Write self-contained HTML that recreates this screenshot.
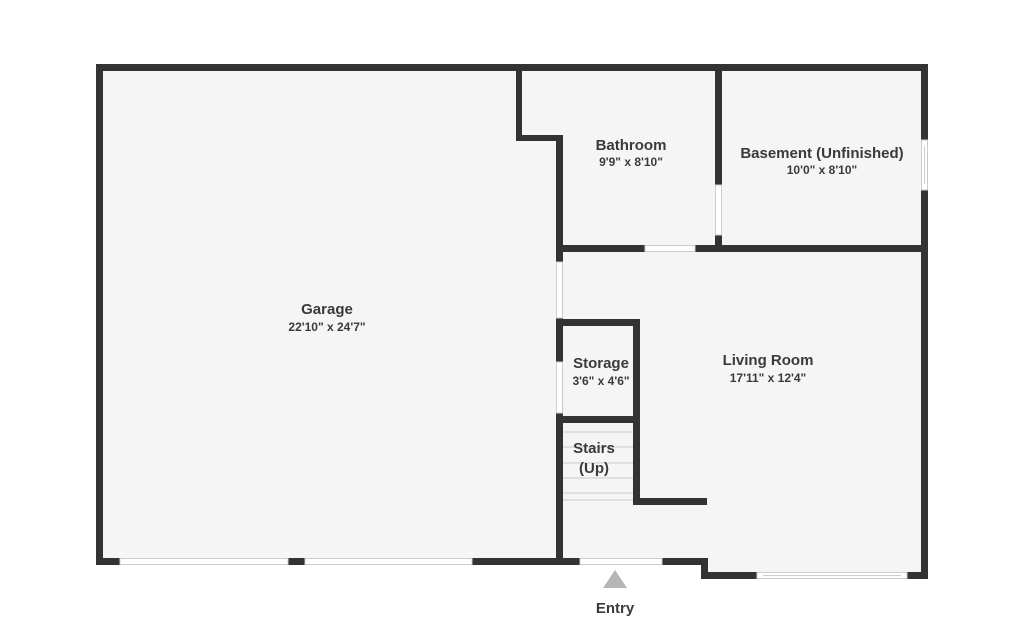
<!DOCTYPE html>
<html><head><meta charset="utf-8"><style>
html,body{margin:0;padding:0;background:#fff;}
svg{display:block;}
text{font-family:"Liberation Sans",sans-serif;fill:#3a3a3a;text-anchor:middle;}
.t{font-size:15px;font-weight:bold;}
.s{font-size:12px;font-weight:bold;}
</style></head><body>
<svg width="1023" height="620" viewBox="0 0 1023 620" xmlns="http://www.w3.org/2000/svg">
<!-- floor fill -->
<path d="M96 64 H928 V579 H701 V565 H96 Z" fill="#f5f5f5"/>
<g fill="#333">
<!-- outer walls -->
<rect x="96" y="64" width="832" height="7"/>
<rect x="96" y="64" width="7" height="501"/>
<rect x="921" y="64" width="7" height="76"/>
<rect x="921" y="190" width="7" height="389"/>
<!-- garage bottom -->
<rect x="96" y="558" width="24" height="7"/>
<rect x="288" y="558" width="17" height="7"/>
<rect x="472" y="558" width="108" height="7"/>
<!-- living bottom -->
<rect x="662" y="558" width="46" height="7"/>
<rect x="701" y="558" width="7" height="21"/>
<rect x="701" y="572" width="56" height="7"/>
<rect x="907" y="572" width="21" height="7"/>
<!-- interior -->
<rect x="516" y="64" width="6" height="77"/>
<rect x="516" y="135" width="47" height="6"/>
<rect x="556" y="135" width="7" height="127"/>
<rect x="556" y="318" width="7" height="44"/>
<rect x="556" y="413" width="7" height="152"/>
<rect x="556" y="245" width="89" height="7"/>
<rect x="695" y="245" width="233" height="7"/>
<rect x="715" y="64" width="7" height="121"/>
<rect x="715" y="235" width="7" height="17"/>
<!-- storage -->
<rect x="556" y="319" width="84" height="7"/>
<rect x="633" y="319" width="7" height="186"/>
<rect x="556" y="416" width="84" height="7"/>
<rect x="633" y="498" width="74" height="7"/>
</g>
<!-- door/window gaps -->
<g fill="#fff" stroke="#ccc" stroke-width="1">
<rect x="120" y="558.5" width="168" height="6"/>
<rect x="305" y="558.5" width="167" height="6"/>
<rect x="580" y="558.5" width="82" height="6"/>
<rect x="645" y="245.5" width="50" height="6"/>
<rect x="715.5" y="185" width="6" height="50"/>
<rect x="556.5" y="262" width="6" height="56"/>
<rect x="556.5" y="362" width="6" height="51"/>
<rect x="921.5" y="140" width="6" height="50"/>
<rect x="757" y="572.5" width="150" height="6"/>
</g>
<g stroke="#ccc" stroke-width="1">
<line x1="924.5" y1="146" x2="924.5" y2="184"/>
<line x1="763" y1="575.5" x2="901" y2="575.5"/>
</g>
<!-- stairs lines -->
<g stroke="#ccc" stroke-width="1">
<line x1="563" y1="432" x2="633" y2="432"/>
<line x1="563" y1="447" x2="633" y2="447"/>
<line x1="563" y1="463" x2="633" y2="463"/>
<line x1="563" y1="478" x2="633" y2="478"/>
<line x1="563" y1="493" x2="633" y2="493"/>
<line x1="563" y1="500" x2="633" y2="500"/>
</g>
<!-- entry arrow -->
<polygon points="615,570 603,588 627,588" fill="#b5b5b5"/>
<text class="t" x="615" y="613">Entry</text>
<!-- labels -->
<text class="t" x="327" y="314">Garage</text>
<text class="s" x="327" y="331">22'10" x 24'7"</text>
<text class="t" x="631" y="150">Bathroom</text>
<text class="s" x="631" y="166">9'9" x 8'10"</text>
<text class="t" x="822" y="158">Basement (Unfinished)</text>
<text class="s" x="822" y="174">10'0" x 8'10"</text>
<text class="t" x="768" y="365">Living Room</text>
<text class="s" x="768" y="382">17'11" x 12'4"</text>
<text class="t" x="601" y="368">Storage</text>
<text class="s" x="601" y="385">3'6" x 4'6"</text>
<text class="t" x="594" y="453">Stairs</text>
<text class="t" x="594" y="473">(Up)</text>
</svg>
</body></html>
